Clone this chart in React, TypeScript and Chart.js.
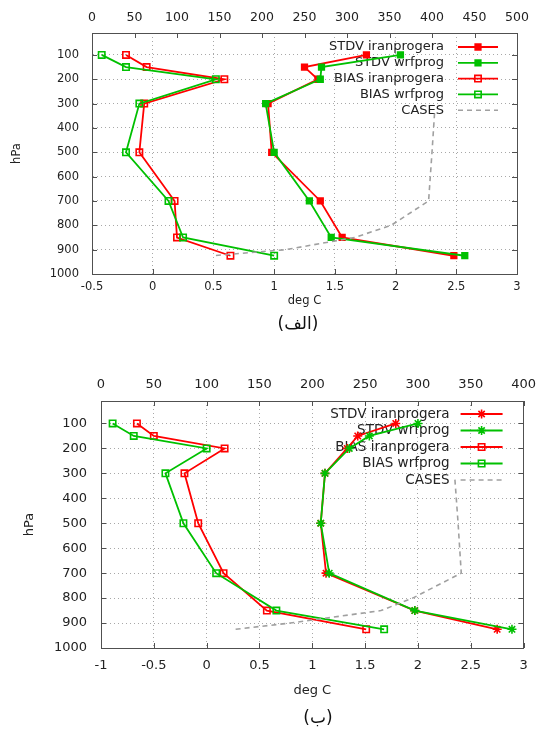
import React, { useEffect, useRef } from 'react';
import { Chart, registerables } from 'chart.js';
Chart.register(...registerables);

// ---------- data ----------
const levels = [100, 150, 200, 300, 500, 700, 850, 925];
const yTicks = [100, 200, 300, 400, 500, 600, 700, 800, 900, 1000];

// chart (الف)
const stdvIranA = [1.76, 1.25, 1.36, 0.95, 0.98, 1.38, 1.56, 2.48];
const stdvWrfA = [2.04, 1.39, 1.38, 0.93, 1.0, 1.29, 1.47, 2.57];
const biasIranA = [-0.22, -0.05, 0.59, -0.07, -0.11, 0.18, 0.2, 0.64];
const biasWrfA = [-0.42, -0.22, 0.52, -0.11, -0.22, 0.13, 0.25, 1.0];
const casesLevelsA = [340, 500, 700, 800, 850, 900, 925];
const casesA = [403, 400, 396, 352, 309, 228, 142];

// chart (ب)
const stdvIranB = [1.79, 1.43, 1.33, 1.12, 1.08, 1.13, 1.97, 2.75];
const stdvWrfB = [2.0, 1.54, 1.35, 1.12, 1.08, 1.16, 1.97, 2.89];
const biasIranB = [-0.66, -0.5, 0.17, -0.21, -0.08, 0.16, 0.57, 1.51];
const biasWrfB = [-0.89, -0.69, 0.0, -0.39, -0.22, 0.09, 0.66, 1.68];
const casesLevelsB = [325, 500, 700, 800, 850, 900, 925];
const casesB = [335, 338, 341, 295, 265, 179, 127];

const labels = ['STDV iranprogera', 'STDV wrfprog', 'BIAS iranprogera', 'BIAS wrfprog', 'CASES'];

// ---------- styles ----------
const RED = '#ff0000';
const GREEN = '#00c000';
const GRAY = '#a0a0a0';
const GRID = '#a8a8a8';
const AXIS = '#505050';
const TEXT = '#222222';
const FONT = '"DejaVu Sans", sans-serif';

const plain = (v: any) => `${Math.round(Number(v) * 1000) / 1000}`;

function pts(xs: number[], ys: number[]) {
  return xs.map((x, i) => ({ x, y: ys[i] }));
}

function drawMarker(ctx: CanvasRenderingContext2D, style: string, x: number, y: number, r: number, stroke: string, fill: string, bw: number) {
  ctx.save();
  ctx.strokeStyle = stroke;
  ctx.fillStyle = fill;
  ctx.lineWidth = bw;
  ctx.setLineDash([]);
  if (style === 'rect') {
    const s = r * Math.SQRT2;
    ctx.beginPath();
    ctx.rect(x - s / 2, y - s / 2, s, s);
    ctx.fill();
    ctx.stroke();
  } else if (style === 'star') {
    const d = r * Math.SQRT1_2;
    ctx.beginPath();
    ctx.moveTo(x - r, y); ctx.lineTo(x + r, y);
    ctx.moveTo(x, y - r); ctx.lineTo(x, y + r);
    ctx.moveTo(x - d, y - d); ctx.lineTo(x + d, y + d);
    ctx.moveTo(x - d, y + d); ctx.lineTo(x + d, y - d);
    ctx.stroke();
  }
  ctx.restore();
}

function keyPlugin(k: any) {
  return {
    id: 'gnuKey',
    beforeDatasetsDraw(chart: any) {
      const { ctx, chartArea } = chart;
      ctx.save();
      ctx.font = `${k.size}px ${FONT}`;
      ctx.textAlign = 'right';
      ctx.textBaseline = 'middle';
      ctx.fillStyle = TEXT;
      chart.data.datasets.forEach((ds: any, i: number) => {
        const y = chartArea.top + k.top + i * k.gap;
        ctx.fillText(ds.label, chartArea.right - k.textRight, y);
        const x1 = chartArea.right - k.s1;
        const x2 = chartArea.right - k.s2;
        ctx.strokeStyle = ds.borderColor;
        ctx.lineWidth = ds.borderWidth;
        ctx.setLineDash(ds.borderDash || []);
        ctx.beginPath();
        ctx.moveTo(x1, y);
        ctx.lineTo(x2, y);
        ctx.stroke();
        ctx.setLineDash([]);
        if (ds.pointRadius > 0) {
          drawMarker(ctx, ds.pointStyle, (x1 + x2) / 2, y, ds.pointRadius, ds.borderColor, ds.pointBackgroundColor, ds.pointBorderWidth);
        }
      });
      ctx.restore();
    },
  };
}

const tickMarkPlugin = {
  id: 'innerTicks',
  afterDraw(chart: any) {
    const { ctx, chartArea, scales } = chart;
    const L = 5;
    ctx.save();
    ctx.strokeStyle = AXIS;
    ctx.lineWidth = 1;
    ctx.beginPath();
    scales.x.ticks.forEach((t: any) => {
      const px = Math.round(scales.x.getPixelForValue(t.value)) + 0.5;
      ctx.moveTo(px, chartArea.bottom); ctx.lineTo(px, chartArea.bottom - L);
    });
    scales.x2.ticks.forEach((t: any) => {
      const px = Math.round(scales.x2.getPixelForValue(t.value)) + 0.5;
      ctx.moveTo(px, chartArea.top); ctx.lineTo(px, chartArea.top + L);
    });
    scales.y.ticks.forEach((t: any) => {
      const py = Math.round(scales.y.getPixelForValue(t.value)) + 0.5;
      ctx.moveTo(chartArea.left, py); ctx.lineTo(chartArea.left + L, py);
      ctx.moveTo(chartArea.right, py); ctx.lineTo(chartArea.right - L, py);
    });
    ctx.stroke();
    ctx.restore();
  },
};

interface Cfg {
  stdvIran: number[]; stdvWrf: number[]; biasIran: number[]; biasWrf: number[];
  cases: number[]; casesLevels: number[];
  xMin: number; xMax: number; x2Max: number;
  stdvStyle: string; stdvRadius: number;
  tickFont: number; topFont: number;
  leftW: number; rightW: number; topH: number; bottomH: number;
  yPad: number; xPad: number; x2Pad: number; hpaPad: number; degPad: number;
  key: any;
}

function buildConfig(c: Cfg): any {
  const mk = (i: number, data: number[], color: string, style: string, filled: boolean, radius: number) => ({
    label: labels[i],
    data: pts(data, levels),
    showLine: true,
    borderColor: color,
    backgroundColor: color,
    borderWidth: 1.8,
    pointStyle: style,
    pointRadius: radius,
    pointHoverRadius: radius,
    pointBorderColor: color,
    pointBackgroundColor: filled ? color : 'rgba(0,0,0,0)',
    pointBorderWidth: 1.6,
    xAxisID: 'x',
    yAxisID: 'y',
    order: -i,
  });
  const datasets = [
    mk(0, c.stdvIran, RED, c.stdvStyle, true, c.stdvRadius),
    mk(1, c.stdvWrf, GREEN, c.stdvStyle, true, c.stdvRadius),
    mk(2, c.biasIran, RED, 'rect', false, 4.5),
    mk(3, c.biasWrf, GREEN, 'rect', false, 4.5),
    {
      label: labels[4],
      data: pts(c.cases, c.casesLevels),
      showLine: true,
      borderColor: GRAY,
      backgroundColor: GRAY,
      borderWidth: 1.6,
      borderDash: [5, 4],
      pointRadius: 0,
      pointHoverRadius: 0,
      xAxisID: 'x2',
      yAxisID: 'y',
      order: -4,
    },
  ];
  const tickFont = { family: FONT, size: c.tickFont };
  return {
    type: 'scatter',
    data: { datasets },
    options: {
      animation: false,
      responsive: true,
      maintainAspectRatio: false,
      layout: { padding: 0 },
      plugins: { legend: { display: false }, tooltip: { enabled: false } },
      events: [],
      scales: {
        x: {
          type: 'linear', position: 'bottom', min: c.xMin, max: c.xMax,
          ticks: { stepSize: 0.5, autoSkip: false, maxRotation: 0, padding: c.xPad, color: TEXT, font: tickFont, callback: plain },
          grid: { color: GRID, lineWidth: 1, drawTicks: false },
          border: { display: true, color: AXIS, width: 1, dash: [1, 3] },
          title: { display: true, text: 'deg C', color: TEXT, font: tickFont, padding: { top: 0, bottom: c.degPad } },
          afterFit: (s: any) => { s.height = c.bottomH; },
        },
        x2: {
          type: 'linear', position: 'top', min: 0, max: c.x2Max,
          ticks: { stepSize: 50, autoSkip: false, maxRotation: 0, padding: c.x2Pad, color: TEXT, font: { family: FONT, size: c.topFont }, callback: plain },
          grid: { drawOnChartArea: false, drawTicks: false },
          border: { display: true, color: AXIS, width: 1 },
          afterFit: (s: any) => { s.height = c.topH; },
        },
        y: {
          type: 'linear', position: 'left', reverse: true, min: 10, max: 1000,
          afterBuildTicks: (s: any) => { s.ticks = yTicks.map((v) => ({ value: v })); },
          ticks: { autoSkip: false, padding: c.yPad, color: TEXT, font: tickFont, callback: plain },
          grid: { color: GRID, lineWidth: 1, drawTicks: false },
          border: { display: true, color: AXIS, width: 1, dash: [1, 3] },
          title: { display: true, text: 'hPa', color: TEXT, font: tickFont, padding: { top: c.hpaPad, bottom: 0 } },
          afterFit: (s: any) => { s.width = c.leftW; },
        },
        y2: {
          type: 'linear', position: 'right', reverse: true, min: 10, max: 1000,
          ticks: { display: false },
          grid: { drawOnChartArea: false, drawTicks: false },
          border: { display: true, color: AXIS, width: 1 },
          afterFit: (s: any) => { s.width = c.rightW; },
        },
      },
    },
    plugins: [keyPlugin(c.key), tickMarkPlugin],
  };
}

const cfgA: Cfg = {
  stdvIran: stdvIranA, stdvWrf: stdvWrfA, biasIran: biasIranA, biasWrf: biasWrfA,
  cases: casesA, casesLevels: casesLevelsA,
  xMin: -0.5, xMax: 3, x2Max: 500,
  stdvStyle: 'rect', stdvRadius: 4,
  tickFont: 11.5, topFont: 12.5,
  leftW: 92, rightW: 28, topH: 33, bottomH: 38,
  yPad: 13, xPad: 6, x2Pad: 8, hpaPad: 10, degPad: 4,
  key: { size: 13, top: 14, gap: 15.8, textRight: 73, s1: 59, s2: 19 },
};

const cfgB: Cfg = {
  stdvIran: stdvIranB, stdvWrf: stdvWrfB, biasIran: biasIranB, biasWrf: biasWrfB,
  cases: casesB, casesLevels: casesLevelsB,
  xMin: -1, xMax: 3, x2Max: 400,
  stdvStyle: 'star', stdvRadius: 4.5,
  tickFont: 13, topFont: 13,
  leftW: 101, rightW: 12, topH: 36, bottomH: 57,
  yPad: 14, xPad: 10, x2Pad: 9, hpaPad: 22, degPad: 7,
  key: { size: 13.5, top: 13, gap: 16.5, textRight: 74, s1: 63, s2: 21 },
};

function ProfileChart({ cfg, top, height }: { cfg: Cfg; top: number; height: number }) {
  const ref = useRef<HTMLCanvasElement>(null);
  useEffect(() => {
    const chart = new Chart(ref.current as HTMLCanvasElement, buildConfig(cfg));
    return () => chart.destroy();
  }, [cfg]);
  return (
    <div style={{ position: 'absolute', left: 0, top, width: 545, height }}>
      <canvas ref={ref} />
    </div>
  );
}

function Caption({ text, cx, cy }: { text: string; cx: number; cy: number }) {
  return (
    <div
      dir="rtl"
      style={{
        position: 'absolute', left: cx - 60, top: cy - 13, width: 120, height: 26,
        textAlign: 'center', fontFamily: FONT, fontSize: 17, lineHeight: '26px', color: '#111',
      }}
    >
      {text}
    </div>
  );
}

export default function App() {
  return (
    <div style={{ position: 'absolute', left: 0, top: 0, width: 545, height: 731, background: '#fff', overflow: 'hidden' }}>
      <ProfileChart cfg={cfgA} top={0} height={312} />
      <Caption text="(الف)" cx={298} cy={323} />
      <ProfileChart cfg={cfgB} top={365} height={340} />
      <Caption text="(ب)" cx={318} cy={717} />
    </div>
  );
}
